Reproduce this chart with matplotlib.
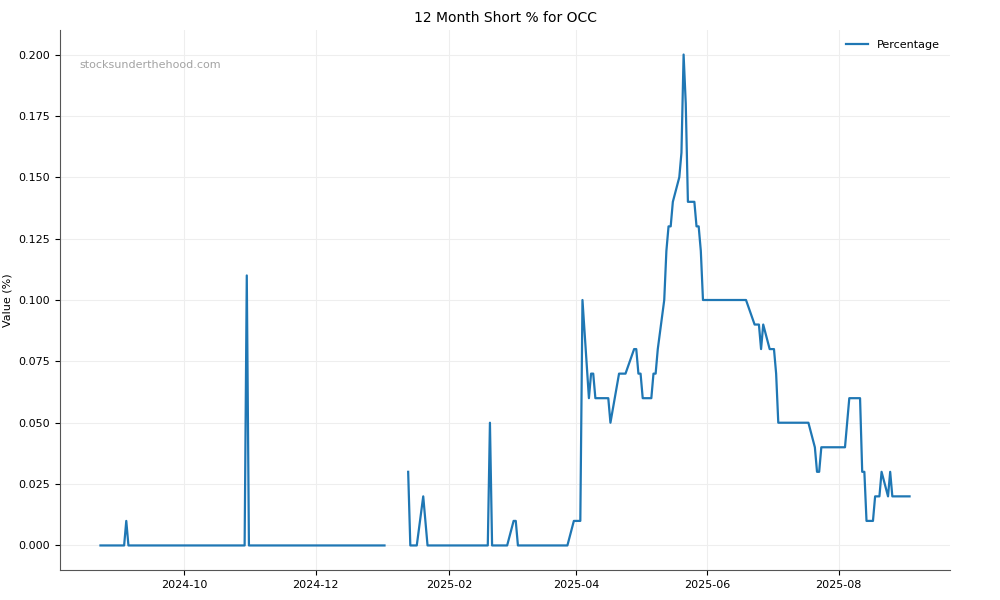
import numpy as np
import pandas as pd
import matplotlib
matplotlib.use("Agg")
import matplotlib.pyplot as plt
import matplotlib.dates as mdates

# short % readings (only the turning points of the line), NaN = no data
dates = [
    "2024-08-23", "2024-09-03", "2024-09-04", "2024-09-05", "2024-10-29",
    "2024-10-30", "2024-10-31", "2025-01-02", "2025-01-08", "2025-01-13",
    "2025-01-14", "2025-01-17", "2025-01-20", "2025-01-22", "2025-02-19",
    "2025-02-20", "2025-02-21", "2025-02-28", "2025-03-03", "2025-03-04",
    "2025-03-05", "2025-03-28", "2025-03-31", "2025-04-03", "2025-04-04",
    "2025-04-07", "2025-04-08", "2025-04-09", "2025-04-10", "2025-04-16",
    "2025-04-17", "2025-04-21", "2025-04-24", "2025-04-28", "2025-04-29",
    "2025-04-30", "2025-05-01", "2025-05-02", "2025-05-06", "2025-05-07",
    "2025-05-08", "2025-05-09", "2025-05-12", "2025-05-13", "2025-05-14",
    "2025-05-15", "2025-05-16", "2025-05-19", "2025-05-20", "2025-05-21",
    "2025-05-22", "2025-05-23", "2025-05-26", "2025-05-27", "2025-05-28",
    "2025-05-29", "2025-05-30", "2025-06-19", "2025-06-23", "2025-06-25",
    "2025-06-26", "2025-06-27", "2025-06-30", "2025-07-02", "2025-07-03",
    "2025-07-04", "2025-07-18", "2025-07-21", "2025-07-22", "2025-07-23",
    "2025-07-24", "2025-08-04", "2025-08-05", "2025-08-06", "2025-08-11",
    "2025-08-12", "2025-08-13", "2025-08-14", "2025-08-17", "2025-08-18",
    "2025-08-20", "2025-08-21", "2025-08-24", "2025-08-25", "2025-08-26",
    "2025-09-03",
]
values = [
    0.00, 0.00, 0.01, 0.00, 0.00,
    0.11, 0.00, 0.00, np.nan, 0.03,
    0.00, 0.00, 0.02, 0.00, 0.00,
    0.05, 0.00, 0.00, 0.01, 0.01,
    0.00, 0.00, 0.01, 0.01, 0.10,
    0.06, 0.07, 0.07, 0.06, 0.06,
    0.05, 0.07, 0.07, 0.08, 0.08,
    0.07, 0.07, 0.06, 0.06, 0.07,
    0.07, 0.08, 0.10, 0.12, 0.13,
    0.13, 0.14, 0.15, 0.16, 0.20,
    0.18, 0.14, 0.14, 0.13, 0.13,
    0.12, 0.10, 0.10, 0.09, 0.09,
    0.08, 0.09, 0.08, 0.08, 0.07,
    0.05, 0.05, 0.04, 0.03, 0.03,
    0.04, 0.04, 0.05, 0.06, 0.06,
    0.03, 0.03, 0.01, 0.01, 0.02,
    0.02, 0.03, 0.02, 0.03, 0.02,
    0.02,
]

df = pd.DataFrame({"date": pd.to_datetime(dates), "Percentage": values})

fig = plt.figure(figsize=(10, 6), dpi=100)
ax = fig.add_axes([0.06, 0.05, 0.89, 0.90])

ax.plot(df["date"], df["Percentage"], color="#1f77b4", linewidth=1.6, label="Percentage")

ax.set_title("12 Month Short % for OCC", fontsize=10)
ax.set_ylabel("Value (%)", fontsize=8)

ax.xaxis.set_major_locator(mdates.MonthLocator(bymonth=[2, 4, 6, 8, 10, 12]))
ax.xaxis.set_major_formatter(mdates.DateFormatter("%Y-%m"))
ax.tick_params(labelsize=8)

ax.grid(True, color="#eeeeee", linewidth=0.8)
ax.spines["top"].set_visible(False)
ax.spines["right"].set_visible(False)
ax.spines["left"].set_color("#555555")
ax.spines["bottom"].set_color("#555555")

ax.text(0.022, 0.945, "stocksunderthehood.com", transform=ax.transAxes,
        fontsize=8, color="#999999", alpha=0.9, va="top", ha="left")

ax.legend(loc="upper right", frameon=False, fontsize=8)

fig.savefig("out.png", dpi=100)
